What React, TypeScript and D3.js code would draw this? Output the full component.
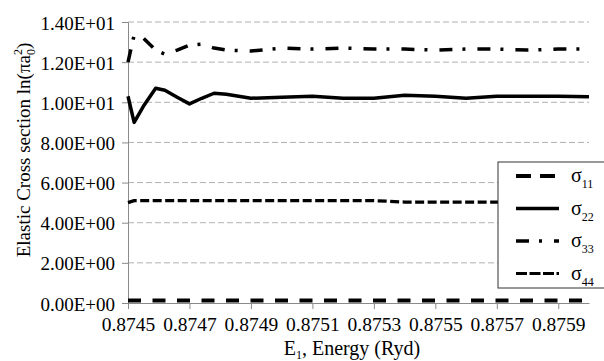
import React, { useEffect, useRef } from "react";
import * as d3 from "d3";

// energies (Ryd) shared by all four series
const energies = [
  0.8745, 0.87452, 0.87455, 0.87459, 0.87462, 0.87466, 0.8747, 0.87474, 0.87478, 0.87482, 0.8749,
  0.875, 0.8751, 0.8752, 0.8753, 0.8754, 0.8755, 0.8756, 0.8757, 0.8758, 0.8759, 0.876,
];
const sigma11 = [
  0.12, 0.12, 0.12, 0.12, 0.12, 0.12, 0.12, 0.12, 0.12, 0.12, 0.12,
  0.12, 0.12, 0.12, 0.12, 0.12, 0.12, 0.12, 0.12, 0.12, 0.12, 0.12,
];
const sigma22 = [
  10.3, 9.0, 9.8, 10.7, 10.6, 10.25, 9.92, 10.2, 10.45, 10.4, 10.2,
  10.25, 10.3, 10.2, 10.2, 10.35, 10.3, 10.2, 10.3, 10.3, 10.3, 10.27,
];
const sigma33 = [
  12.0, 13.35, 13.2, 12.6, 12.4, 12.6, 12.85, 12.9, 12.7, 12.6, 12.55,
  12.7, 12.65, 12.7, 12.65, 12.65, 12.6, 12.65, 12.65, 12.6, 12.65, 12.65,
];
const sigma44 = [
  5.0, 5.1, 5.1, 5.1, 5.1, 5.1, 5.1, 5.1, 5.1, 5.1, 5.1,
  5.1, 5.1, 5.1, 5.1, 5.03, 5.03, 5.03, 5.03, 5.03, 5.03, 5.03,
];
const xTicks = [0.8745, 0.8747, 0.8749, 0.8751, 0.8753, 0.8755, 0.8757, 0.8759];
const yTicks = [0, 2, 4, 6, 8, 10, 12, 14];

const FONT = "'Liberation Serif', 'Times New Roman', serif";

const series = [
  { sub: "11", values: sigma11, width: 4, dash: "13,11.5", legendDash: "15,9" },
  { sub: "22", values: sigma22, width: 3.5, dash: null, legendDash: null },
  { sub: "33", values: sigma33, width: 3.5, dash: "13,10,3,12", legendDash: "13,10,3,12" },
  { sub: "44", values: sigma44, width: 3.2, dash: "9,3.5", legendDash: "11,2.5" },
];

const expFormat = (v: number) => {
  const [m, e] = v.toExponential(2).split("e");
  const exp = parseInt(e, 10);
  return `${m}E${exp < 0 ? "-" : "+"}${String(Math.abs(exp)).padStart(2, "0")}`;
};

const App = () => {
  const svgRef = useRef<SVGSVGElement>(null);

  useEffect(() => {
    const width = 604;
    const height = 361;
    const margin = { top: 22, right: 15, bottom: 58, left: 128 };

    const svg = d3.select(svgRef.current);
    svg.selectAll("*").remove();
    svg.attr("width", width).attr("height", height).style("font-family", FONT);

    const x = d3
      .scaleLinear()
      .domain([0.8745, 0.876])
      .range([margin.left, width - margin.right]);
    const y = d3
      .scaleLinear()
      .domain([0, 14])
      .range([height - margin.bottom, margin.top]);

    // horizontal dashed grid
    svg
      .append("g")
      .selectAll("line")
      .data(yTicks.filter((d) => d > 0))
      .join("line")
      .attr("x1", x(0.8745))
      .attr("x2", x(0.876))
      .attr("y1", (d) => y(d))
      .attr("y2", (d) => y(d))
      .attr("stroke", "#b0b0b0")
      .attr("stroke-width", 1)
      .attr("stroke-dasharray", "6,3");

    // y axis
    const yAxis = svg
      .append("g")
      .attr("transform", `translate(${x(0.8745)},0)`)
      .call(d3.axisLeft(y).tickValues(yTicks).tickSize(6).tickPadding(7).tickFormat((d) => expFormat(+d)));
    yAxis.attr("font-family", null).attr("font-size", null);
    yAxis.select(".domain").attr("stroke", "#8a8a8a");
    yAxis.selectAll(".tick line").attr("stroke", "#8a8a8a");
    yAxis
      .selectAll(".tick text")
      .attr("dy", "0.37em")
      .style("font-size", "19px")
      .attr("fill", "#000");

    // x axis
    const xAxis = svg
      .append("g")
      .attr("transform", `translate(0,${y(0)})`)
      .call(d3.axisBottom(x).tickValues(xTicks).tickSize(6).tickSizeOuter(0).tickPadding(8).tickFormat(d3.format(".4f")));
    xAxis.attr("font-family", null).attr("font-size", null);
    xAxis.select(".domain").attr("stroke", "#8a8a8a");
    xAxis.selectAll(".tick line").attr("stroke", "#8a8a8a");
    xAxis
      .selectAll(".tick text")
      .style("font-size", "19.5px")
      .attr("fill", "#000");

    // series lines
    const line = d3
      .line<number>()
      .x((_, i) => x(energies[i]))
      .y((d) => y(d));

    series.forEach((s) => {
      svg
        .append("path")
        .datum(s.values)
        .attr("fill", "none")
        .attr("stroke", "#000")
        .attr("stroke-width", s.width)
        .attr("stroke-linejoin", "round")
        .attr("stroke-dasharray", s.dash)
        .attr("d", line);
    });

    // legend
    const lg = svg.append("g").attr("transform", "translate(498,162)");
    lg.append("rect")
      .attr("width", 120)
      .attr("height", 126)
      .attr("fill", "#fff")
      .attr("stroke", "#333")
      .attr("stroke-width", 1);
    series.forEach((s, i) => {
      const ly = 14 + i * 32.5;
      lg.append("line")
        .attr("x1", 18)
        .attr("x2", 61)
        .attr("y1", ly)
        .attr("y2", ly)
        .attr("stroke", "#000")
        .attr("stroke-width", s.width)
        .attr("stroke-dasharray", s.legendDash);
      const t = lg
        .append("text")
        .attr("x", 73)
        .attr("y", ly + 6)
        .style("font-size", "20px")
        .attr("fill", "#000");
      t.append("tspan").text("σ");
      t.append("tspan").style("font-size", "12px").attr("dy", 6).text(s.sub);
    });

    // axis titles
    const xt = svg
      .append("text")
      .attr("x", 352)
      .attr("y", 354.5)
      .attr("text-anchor", "middle")
      .style("font-size", "20px")
      .attr("fill", "#000");
    xt.append("tspan").text("E");
    xt.append("tspan").style("font-size", "12px").attr("dy", 4).text("1");
    xt.append("tspan").attr("dy", -4).text(", Energy (Ryd)");

    const yt = svg
      .append("text")
      .attr("transform", "translate(30,150) rotate(-90)")
      .attr("text-anchor", "middle")
      .style("font-size", "19px")
      .attr("fill", "#000");
    yt.append("tspan").text("Elastic Cross section ln(πa");
    yt.append("tspan").style("font-size", "12px").attr("dy", -8).text("2");
    yt.append("tspan").style("font-size", "12px").attr("dx", -6).attr("dy", 13).text("0");
    yt.append("tspan").attr("dy", -5).text(")");
  }, []);

  return <svg ref={svgRef} style={{ position: "absolute", left: 0, top: 0 }}></svg>;
};

export default App;
